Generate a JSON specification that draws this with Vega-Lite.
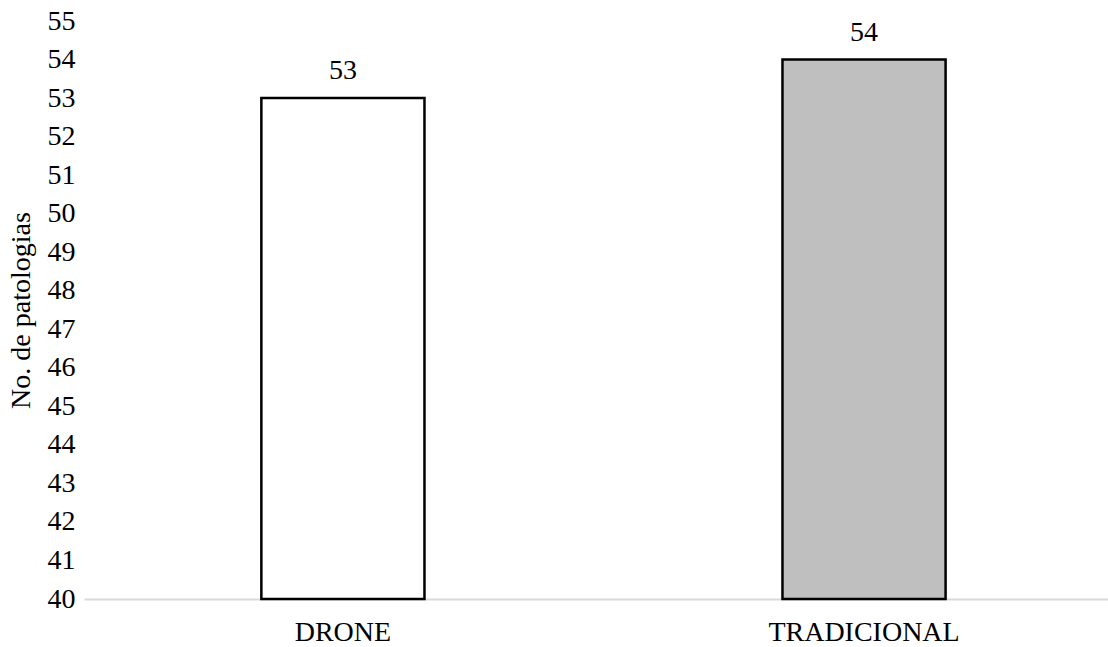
{
  "$schema": "https://vega.github.io/schema/vega-lite/v6.json",
  "autosize": "none",
  "width": 1024,
  "height": 578,
  "padding": {"left": 84, "top": 21, "right": 0, "bottom": 48},
  "background": "white",
  "config": {
    "view": {"stroke": null},
    "font": "Liberation Serif"
  },
  "data": {
    "values": [
      {"metodo": "DRONE", "patologias": 53, "tipo": "drone"},
      {"metodo": "TRADICIONAL", "patologias": 54, "tipo": "tradicional"}
    ]
  },
  "encoding": {
    "x": {
      "field": "metodo",
      "type": "nominal",
      "sort": null,
      "scale": {"paddingInner": 0.687, "paddingOuter": 0.326, "align": 0.522},
      "axis": {
        "title": null,
        "labelAngle": 0,
        "labelFont": "Liberation Serif",
        "labelFontSize": 28,
        "labelColor": "#000000",
        "labelPadding": 19,
        "labelLimit": 0,
        "ticks": false,
        "domainColor": "#d9d9d9",
        "domainWidth": 2,
        "grid": false
      }
    },
    "y": {
      "field": "patologias",
      "type": "quantitative",
      "scale": {"domain": [40, 55], "zero": false, "nice": false},
      "axis": {
        "title": "No. de patologias",
        "titleFont": "Liberation Serif",
        "titleFontSize": 28,
        "titleFontWeight": "normal",
        "titleColor": "#000000",
        "titlePadding": 12,
        "values": [40,41,42,43,44,45,46,47,48,49,50,51,52,53,54,55],
        "labelFont": "Liberation Serif",
        "labelFontSize": 28,
        "labelColor": "#000000",
        "labelPadding": 9,
        "ticks": false,
        "domain": false,
        "grid": false
      }
    }
  },
  "layer": [
    {
      "mark": {"type": "bar", "stroke": "#000000", "strokeWidth": 2.5, "clip": false},
      "encoding": {
        "y2": {"datum": 40},
        "fill": {
          "field": "tipo",
          "type": "nominal",
          "scale": {"domain": ["drone", "tradicional"], "range": ["#ffffff", "#bfbfbf"]},
          "legend": null
        }
      }
    },
    {
      "mark": {"type": "text", "baseline": "alphabetic", "dy": -19, "fontSize": 28, "font": "Liberation Serif", "color": "#000000"},
      "encoding": {
        "text": {"field": "patologias", "type": "quantitative"}
      }
    }
  ]
}
